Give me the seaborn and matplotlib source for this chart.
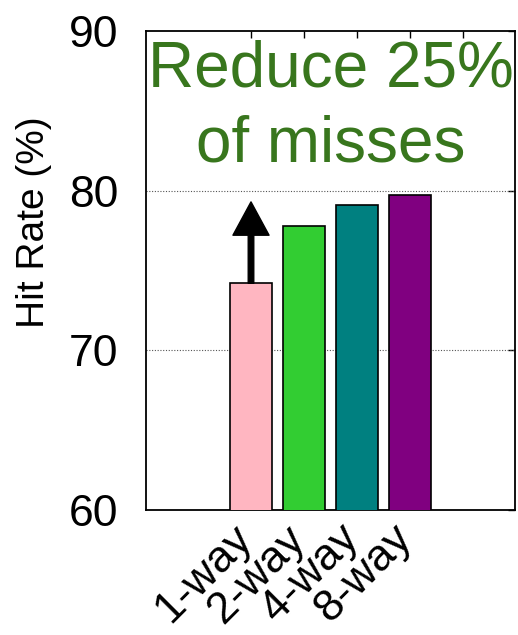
import pandas as pd
import matplotlib.pyplot as plt
import matplotlib.transforms as mtransforms
import seaborn as sns

categories = ['1-way', '2-way', '4-way', '8-way']
hit_rate = [74.2, 77.8, 79.1, 79.7]
colors = ['#FFB6C1', '#32CD32', '#008080', '#800080']

df = pd.DataFrame({'assoc': categories, 'hit': hit_rate})

sns.set_style('white')
plt.rcParams['font.family'] = ['Liberation Sans', 'DejaVu Sans']
plt.rcParams['text.color'] = 'black'
plt.rcParams['axes.labelcolor'] = 'black'
plt.rcParams['xtick.color'] = 'black'
plt.rcParams['ytick.color'] = 'black'

fig = plt.figure(figsize=(5.18, 6.35), dpi=100)
ax = fig.add_axes([0.282, 0.197, 0.712, 0.754])

sns.barplot(data=df, x='assoc', y='hit', hue='assoc', palette=colors, saturation=1,
            edgecolor='black', linewidth=1.2, width=0.8, legend=False, ax=ax, zorder=3)

ax.set_ylim(60, 90)
ax.set_xlim(-1.98, 4.98)
ax.set_yticks([60, 70, 80, 90])
ax.set_xticks([0, 1, 2, 3, 4])
ax.set_xticklabels(categories + [''], rotation=45, ha='right', rotation_mode='anchor')
ax.tick_params(axis='both', direction='in', length=5, width=1, labelsize=32,
               top=True, right=True, color='black', labelcolor='black')
ax.tick_params(axis='y', pad=20)
ax.tick_params(axis='x', pad=12)
ax.set_xlabel('')
ax.set_ylabel('Hit Rate (%)', fontsize=28, color='black')
ax.yaxis.set_label_coords(-0.255, 0.60)

# shift rotated tick labels a bit left/up like the original
offset = mtransforms.ScaledTranslation(-0.19, 0.09, fig.dpi_scale_trans)
for lab in ax.get_xticklabels():
    lab.set_transform(lab.get_transform() + offset)

for yv in [70, 80]:
    ax.axhline(yv, color='#555555', linestyle=(0, (1, 1.5)), linewidth=0.8, zorder=1)

for s in ax.spines.values():
    s.set_color('black')
    s.set_linewidth(1.3)

# arrow from first bar towards the best
ax.annotate('', xy=(0, 79.3), xytext=(0, hit_rate[0]),
            arrowprops=dict(facecolor='black', edgecolor='black', width=4,
                            headwidth=26, headlength=24), zorder=4)

ax.text(1.5, 87.6, 'Reduce 25%', color='#38761d', fontsize=46, ha='center', va='center')
ax.text(1.5, 82.9, 'of misses', color='#38761d', fontsize=46, ha='center', va='center')

plt.savefig('out.png', dpi=100)
